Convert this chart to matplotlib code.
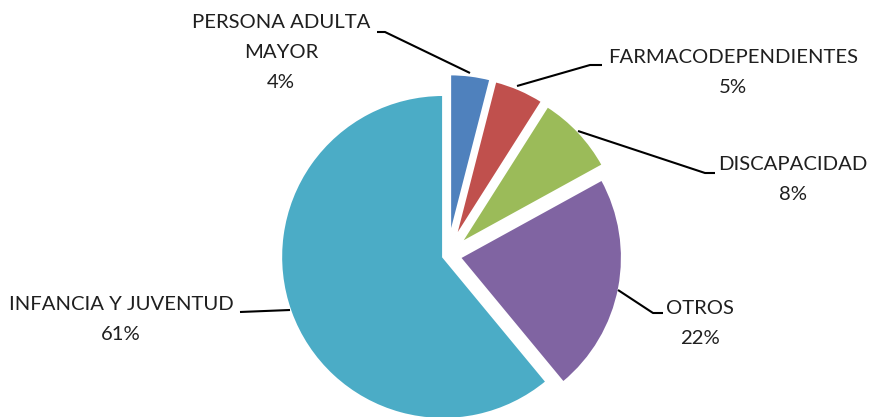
import matplotlib
matplotlib.use("Agg")
import matplotlib.pyplot as plt

categories = ["PERSONA ADULTA\nMAYOR", "FARMACODEPENDIENTES", "DISCAPACIDAD", "OTROS", "INFANCIA Y JUVENTUD"]
values = [4, 5, 8, 22, 61]
pct_labels = ["4%", "5%", "8%", "22%", "61%"]
colors = ["#4F81BD", "#C0504D", "#9BBB59", "#8064A2", "#4BACC6"]
explode_frac = [0.118, 0.115, 0.11, 0.077, 0.03]

W, H = 870, 417
plt.rcParams['font.family'] = ['Lato', 'DejaVu Sans']
fig = plt.figure(figsize=(W / 100, H / 100), dpi=100)
ax = fig.add_axes([0, 0, 1, 1])

cx, cy, R = 447.7, 255.3, 162
ax.pie(values, colors=colors, explode=[e * R for e in explode_frac], startangle=90, counterclock=False,
       center=(cx, H - cy), radius=R, frame=True,
       wedgeprops=dict(edgecolor='white', linewidth=1.5))
ax.set_xlim(0, W)
ax.set_ylim(0, H)
ax.set_aspect('equal')
ax.axis('off')

# label layout (pixel coords, y down): text center x, first line y, leader polyline
layout = [
    (281, 22, [(377, 32), (385, 32), (470, 73)]),
    (733, 57, [(602, 65), (590, 65), (517, 86)]),
    (793, 165, [(715, 173), (705, 173), (578, 131)]),
    (700, 308, [(663, 313), (653, 313), (618, 290)]),
    (121, 305, [(240, 312), (290, 310)]),
]
txtcol = '#1f1f1f'
fs = 14.6
lh = 30
for cat, pct, (tx, ty, pts) in zip(categories, pct_labels, layout):
    lines = cat.split("\n") + [pct]
    for i, ln in enumerate(lines):
        ax.text(tx, H - (ty + i * lh), ln, ha='center', va='center', fontsize=fs, color=txtcol)
    ax.plot([p[0] for p in pts], [H - p[1] for p in pts], color='black', lw=1.5, solid_capstyle='butt')

fig.savefig("out.png", dpi=100, facecolor='white')
